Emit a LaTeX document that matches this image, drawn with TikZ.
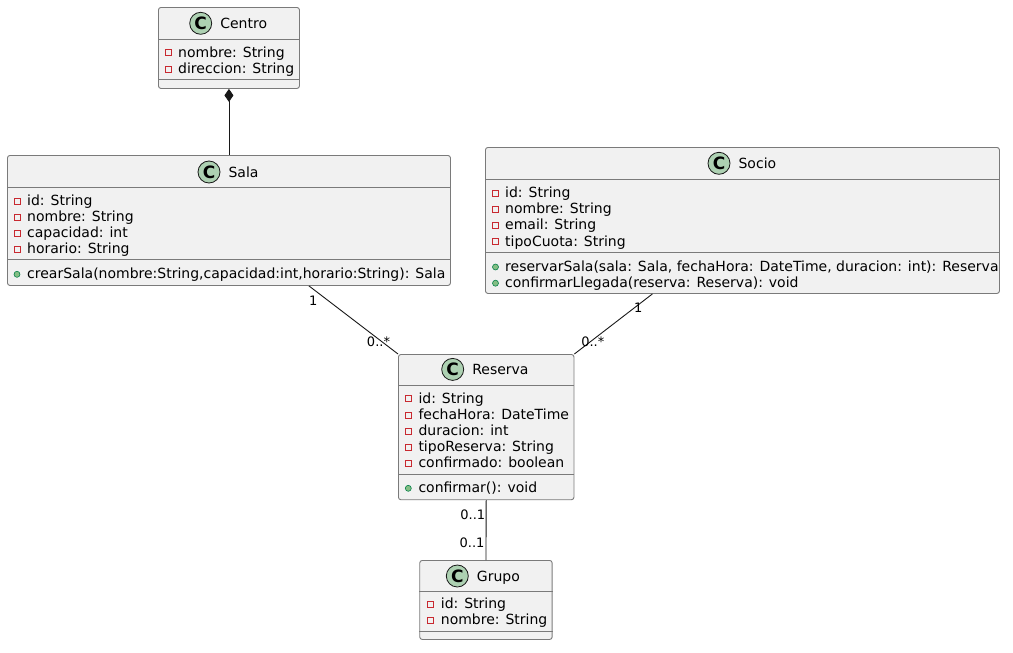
\documentclass[tikz,border=0pt]{standalone}
\usepackage{fontspec}
\setmainfont{DejaVu Sans}
\usetikzlibrary{positioning, arrows.meta}

\definecolor{boxfill}{HTML}{F1F1F1}
\definecolor{boxline}{HTML}{7A7A7A}
\definecolor{spotfill}{HTML}{ADD1B2}
\definecolor{privred}{HTML}{C82930}
\definecolor{pubfill}{HTML}{84BE84}
\definecolor{publine}{HTML}{038048}
\definecolor{linkcol}{HTML}{181818}

\begin{document}
\begin{tikzpicture}[
  x=1pt, y=-1pt,
  classbox/.style={draw=boxline, fill=boxfill, line width=0.9pt,
    rounded corners=2.5pt, anchor=north west, inner sep=0pt},
  sepline/.style={draw=boxline, line width=0.9pt},
  spot/.style={circle, draw=linkcol, fill=spotfill, line width=0.8pt,
    minimum size=22pt, inner sep=0pt, font=\fontsize{17}{17}\selectfont\bfseries},
  cname/.style={inner sep=0pt, text height=10.2pt, text depth=0pt,
    font=\fontsize{14}{16}\selectfont},
  attr/.style={anchor=base west, inner sep=0pt, font=\fontsize{14}{16}\selectfont},
  priv/.style={draw=privred, line width=0.8pt, minimum size=6pt, inner sep=0pt},
  pub/.style={circle, draw=publine, fill=pubfill, line width=0.6pt,
    minimum size=6pt, inner sep=0pt},
  link/.style={draw=linkcol, line width=0.9pt},
  mult/.style={anchor=base, inner sep=0pt, font=\fontsize{13}{13}\selectfont},
]
  \useasboundingbox (0,0) rectangle (1013,653);

  % Centro
  \node[classbox, minimum width=141pt, minimum height=81pt] (centro) at (158,7) {};
  \node[spot] (centro-c) at (200.7,23.3) {C};
  \node[cname, right=8pt of centro-c] (centro-n) {Centro};
  \draw[sepline] ([yshift=-32pt]centro.north west) -- ([yshift=-32pt]centro.north east);
  \foreach \t [count=\i from 0] in {nombre: String, direccion: String} {
    \node[attr] (centro-a\i) at (178,57+16.2*\i) {\t};
    \node[priv] (centro-p\i) at (168,52.7+16.2*\i) {};
  }
  \draw[sepline] ([yshift=-72.6pt]centro.north west) -- ([yshift=-72.6pt]centro.north east);

  % Sala
  \node[classbox, minimum width=443pt, minimum height=130pt] (sala) at (7,155) {};
  \node[spot] (sala-c) at (209,172) {C};
  \node[cname, right=8pt of sala-c] (sala-n) {Sala};
  \draw[sepline] ([yshift=-32pt]sala.north west) -- ([yshift=-32pt]sala.north east);
  \foreach \t [count=\i from 0] in {id: String, nombre: String, capacidad: int, horario: String} {
    \node[attr] (sala-a\i) at (27,205.3+16.2*\i) {\t};
    \node[priv] (sala-p\i) at (17,201+16.2*\i) {};
  }
  \draw[sepline] ([yshift=-104.8pt]sala.north west) -- ([yshift=-104.8pt]sala.north east);
  \node[attr] (sala-m0) at (27,278.6) {crearSala(nombre:String,capacidad:int,horario:String): Sala};
  \node[pub] (sala-q0) at (17,274.3) {};

  % Socio
  \node[classbox, minimum width=514pt, minimum height=146pt] (socio) at (485,147) {};
  \node[spot] (socio-c) at (719,163.3) {C};
  \node[cname, right=8pt of socio-c] (socio-n) {Socio};
  \draw[sepline] ([yshift=-32pt]socio.north west) -- ([yshift=-32pt]socio.north east);
  \foreach \t [count=\i from 0] in {id: String, nombre: String, email: String, tipoCuota: String} {
    \node[attr] (socio-a\i) at (505,197.4+16.2*\i) {\t};
    \node[priv] (socio-p\i) at (495.5,193.1+16.2*\i) {};
  }
  \draw[sepline] ([yshift=-105.6pt]socio.north west) -- ([yshift=-105.6pt]socio.north east);
  \foreach \t [count=\i from 0] in {{reservarSala(sala: Sala, fechaHora: DateTime, duracion: int): Reserva},
                                    {confirmarLlegada(reserva: Reserva): void}} {
    \node[attr] (socio-m\i) at (505,271.3+16.2*\i) {\t};
    \node[pub] (socio-q\i) at (495.5,267+16.2*\i) {};
  }

  % Reserva
  \node[classbox, minimum width=175.5pt, minimum height=145.3pt] (reserva) at (398,354) {};
  \node[spot] (reserva-c) at (452.7,369.4) {C};
  \node[cname, right=8pt of reserva-c] (reserva-n) {Reserva};
  \draw[sepline] ([yshift=-31.5pt]reserva.north west) -- ([yshift=-31.5pt]reserva.north east);
  \foreach \t [count=\i from 0] in {id: String, fechaHora: DateTime, duracion: int,
                                    tipoReserva: String, confirmado: boolean} {
    \node[attr] (reserva-a\i) at (418.3,403+16.2*\i) {\t};
    \node[priv] (reserva-p\i) at (408.3,398.7+16.2*\i) {};
  }
  \draw[sepline] ([yshift=-120pt]reserva.north west) -- ([yshift=-120pt]reserva.north east);
  \node[attr] (reserva-m0) at (418.3,492.6) {confirmar(): void};
  \node[pub] (reserva-q0) at (408.3,488.3) {};

  % Grupo
  \node[classbox, minimum width=132.4pt, minimum height=79pt] (grupo) at (419.3,560) {};
  \node[spot] (grupo-c) at (457.3,576) {C};
  \node[cname, right=8pt of grupo-c] (grupo-n) {Grupo};
  \draw[sepline] ([yshift=-31pt]grupo.north west) -- ([yshift=-31pt]grupo.north east);
  \foreach \t [count=\i from 0] in {id: String, nombre: String} {
    \node[attr] (grupo-a\i) at (440.7,608.3+16.2*\i) {\t};
    \node[priv] (grupo-p\i) at (430.3,604+16.2*\i) {};
  }
  \draw[sepline] ([yshift=-71pt]grupo.north west) -- ([yshift=-71pt]grupo.north east);

  % relaciones
  \draw[link, {Diamond[length=13pt, width=9pt]}-] (centro.south) -- (sala.north);
  \draw[link] ([xshift=80pt]sala.south) -- (reserva.north west);
  \draw[link] ([xshift=-90pt]socio.south) -- (reserva.north east);
  \draw[link] (reserva.south) -- (grupo.north);

  % multiplicidades
  \node[mult] (m1) at (313.3,305) {1};
  \node[mult] (m2) at (378.5,346.7) {0..*};
  \node[mult] (m3) at (638.3,312.7) {1};
  \node[mult] (m4) at (592.8,346.7) {0..*};
  \node[mult] (m5) at (472.8,519) {0..1};
  \node[mult] (m6) at (472,547.7) {0..1};
\end{tikzpicture}
\end{document}
